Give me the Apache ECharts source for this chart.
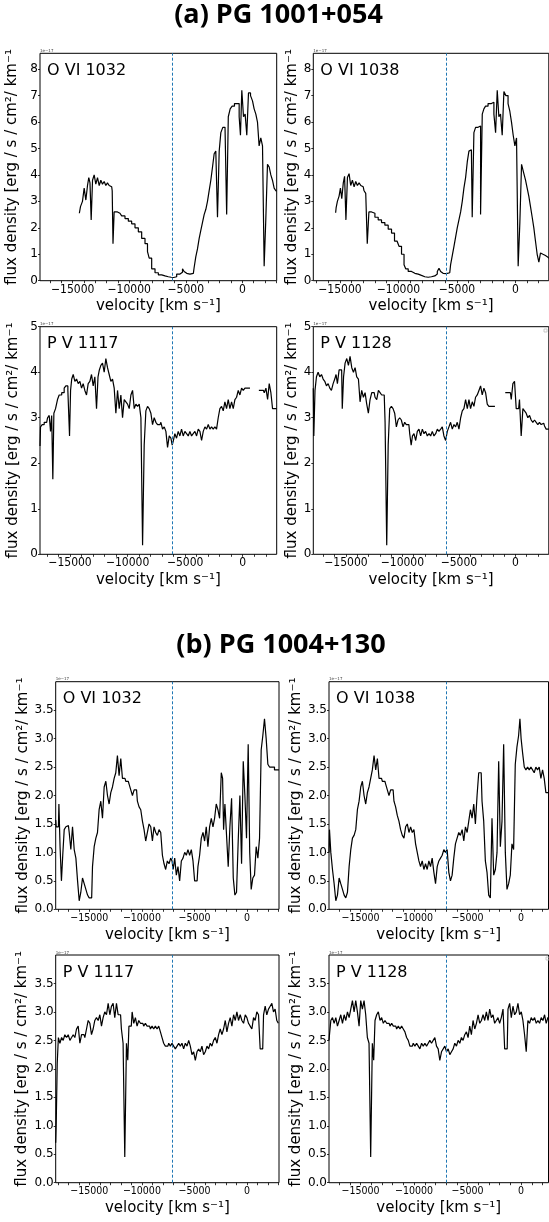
<!DOCTYPE html>
<html><head><meta charset="utf-8">
<script src="https://cdn.jsdelivr.net/npm/echarts@6/dist/echarts.min.js"></script>
<style>html,body{margin:0;padding:0;background:#fff}#c{width:549px;height:1222px}</style>
</head><body><div id="c"></div>
<script>
// ---------- DATA (flux in units of 1e-17) ----------
const xTickValues = [-15000, -10000, -5000, 0];
const xMinorTickValues = [-18000,-17000,-16000,-15000,-14000,-13000,-12000,-11000,-10000,-9000,-8000,-7000,-6000,-5000,-4000,-3000,-2000,-1000,0,1000,2000,3000];
const yTicksAO = [0, 1, 2, 3, 4, 5, 6, 7, 8];
const yTicksAP = [0, 1, 2, 3, 4, 5];
const yTicksB = [0, 0.5, 1, 1.5, 2, 2.5, 3, 3.5];
const lineLabels = ['O VI 1032', 'O VI 1038', 'P V 1117', 'P V 1128'];
const groupTitles = ['(a) PG 1001+054', '(b) PG 1004+130'];
const refVelA = [-6190, -5950, -6110, -6160];
const refVelB = [-7090, -7020, -7090, -7020];

// (a) PG 1001+054, O VI 1032
const vA1032 = [-14410,-14210,-14060,-13910,-13760,-13620,-13530,-13410,-13320,-13170,
 -13030,-12880,-12730,-12580,-12440,-12290,-12140,-12000,-11850,-11700,
 -11550,-11460,-11410,-11260,-10820,-10520,-10230,-9930,-9640,-9340,
 -9050,-8750,-8460,-8310,-8160,-7870,-7570,-7280,-6980,-6690,
 -6400,-6190,-5950,-5660,-5360,-5220,-5070,-4920,-4630,-4330,
 -4190,-4040,-3890,-3740,-3600,-3450,-3300,-3150,-3010,-2860,
 -2710,-2560,-2420,-2270,-2120,-1970,-1830,-1620,-1440,-1330,
 -1150,-1000,-800,-590,-350,-210,-120,30,180,320,
 470,620,830,970,1120,1270,1410,1560,1710,1860,
 2000,2150,2300,2450,2590,2740,2890,3040];
const fA1032 = [2.55,2.8,3.0,3.5,3.05,3.6,3.9,3.7,2.3,3.8,
 4.0,3.65,3.9,3.6,3.8,3.65,3.75,3.6,3.7,3.6,
 3.55,3.4,1.4,2.6,2.55,2.45,2.35,2.25,2.15,2.0,
 1.85,1.6,1.4,1.1,0.85,0.45,0.3,0.22,0.18,0.15,
 0.13,0.12,0.15,0.25,0.32,0.45,0.35,0.28,0.25,0.28,
 0.5,0.9,1.2,1.6,1.9,2.2,2.5,2.7,3.0,3.4,
 3.8,4.3,4.8,4.9,2.4,4.9,5.6,5.8,5.85,2.5,
 6.2,6.5,6.6,6.7,6.7,6.2,5.5,7.2,6.2,6.3,
 5.5,7.1,7.0,6.8,6.5,6.3,6.0,5.1,5.4,5.1,
 0.55,2.3,4.4,4.3,4.0,3.8,3.5,3.4];

// (a) PG 1001+054, O VI 1038
const vA1038 = [-15370,-15290,-15150,-15000,-14920,-14770,-14660,-14550,-14430,-14290,
 -14150,-14010,-13860,-13720,-13580,-13440,-13290,-13150,-13010,-12870,
 -12720,-12610,-12440,-12150,-11870,-11590,-11300,-11020,-10730,-10450,
 -10220,-10020,-9880,-9590,-9450,-9310,-9020,-8740,-8450,-8170,
 -7890,-7600,-7320,-7030,-6750,-6600,-6460,-6320,-6180,-5890,
 -5610,-5470,-5320,-5180,-5040,-4900,-4750,-4610,-4470,-4330,
 -4180,-4040,-3900,-3760,-3620,-3470,-3330,-3050,-2900,-2760,
 -2620,-2480,-2190,-1910,-1760,-1620,-1480,-1340,-1200,-1050,
 -910,-710,-540,-400,-260,-110,30,170,310,460,
 600,800,940,1080,1220,1370,1510,1650,1790,1940,
 2080,2220,2360,2500,2650,2870];
const fA1038 = [2.57,2.75,3.0,3.2,3.5,3.1,3.7,3.95,2.3,3.9,
 4.05,3.6,3.8,3.55,3.75,3.6,3.7,3.6,3.55,3.4,
 3.3,1.4,2.6,2.55,2.4,2.3,2.2,2.1,1.95,1.8,
 1.5,1.45,1.3,1.0,0.6,0.45,0.35,0.28,0.25,0.2,
 0.15,0.13,0.15,0.18,0.25,0.35,0.47,0.35,0.28,0.27,
 0.3,0.6,0.95,1.3,1.65,2.0,2.3,2.6,3.0,3.5,
 3.9,4.5,4.9,4.95,2.4,5.6,5.8,5.85,2.5,6.3,
 6.5,6.6,6.7,6.75,6.3,5.6,7.2,6.2,6.3,5.5,
 7.15,7.0,6.7,6.4,6.0,5.5,5.1,5.4,0.55,2.2,
 4.4,4.1,3.8,3.5,3.2,2.8,2.4,2.0,1.5,1.0,
 0.7,1.05,1.0,0.95,0.9,0.85];

// (a) PG 1001+054, P V 1117
const vA1117 = [-17610,-17520,-17320,-17170,-17030,-16880,-16740,-16650,-16540,-16450,
 -16360,-16160,-16020,-15870,-15580,-15440,-15290,-15090,-15000,-14910,
 -14800,-14650,-14510,-14360,-14220,-14070,-13930,-13790,-13640,-13500,
 -13350,-13210,-13060,-12920,-12770,-12630,-12510,-12400,-12250,-12110,
 -11960,-11820,-11670,-11530,-11380,-11240,-11090,-10950,-10800,-10660,
 -10510,-10370,-10220,-10080,-9930,-9790,-9640,-9500,-9350,-9210,
 -9060,-8920,-8770,-8630,-8490,-8340,-8200,-8050,-7910,-7760,
 -7620,-7470,-7330,-7180,-7040,-6890,-6750,-6600,-6460,-6310,
 -6170,-6080,-5970,-5820,-5680,-5530,-5390,-5240,-5100,-4950,
 -4810,-4660,-4520,-4370,-4230,-4080,-3940,-3790,-3650,-3500,
 -3360,-3210,-3070,-2920,-2780,-2640,-2490,-2350,-2200,-2060,
 -1910,-1770,-1620,-1480,-1330,-1190,-1040,-900,-750,-610,
 -460,-320,-170,-30,120,260,1000,1800,1940,2090,
 2230,2370,2520,2660,2810,2950];
const fA1117 = [2.38,2.8,2.85,2.9,2.9,3.0,3.05,2.7,3.05,1.65,
 3.1,3.2,3.4,3.5,3.55,3.65,3.7,3.6,2.6,3.6,
 3.85,3.95,3.8,3.85,3.75,3.8,3.65,3.75,3.6,3.5,
 3.75,3.8,3.95,3.7,3.9,3.2,3.9,4.05,4.15,4.2,
 4.0,4.3,4.1,3.95,3.8,3.85,3.65,3.1,3.6,3.2,
 3.5,3.0,3.4,3.35,3.3,3.2,3.5,3.6,3.2,3.3,
 3.25,3.3,3.0,0.2,2.4,3.15,3.25,3.2,3.1,2.85,
 3.0,2.9,2.85,2.85,2.9,2.75,2.8,2.7,2.35,2.6,
 2.55,2.4,2.5,2.65,2.55,2.7,2.6,2.75,2.6,2.7,
 2.65,2.6,2.7,2.6,2.65,2.7,2.6,2.75,2.7,2.5,
 2.7,2.8,2.75,2.85,2.75,2.8,2.75,2.8,2.75,3.0,
 3.2,3.25,3.15,3.35,3.2,3.4,3.2,3.35,3.2,3.4,
 3.45,3.6,3.5,3.65,3.6,3.65,null,3.6,3.55,3.65,
 3.4,3.75,3.55,3.2,3.2,3.2];

// (a) PG 1001+054, P V 1128
const vA1128 = [-17890,-17800,-17680,-17540,-17390,-17240,-17090,-16950,-16800,-16650,
 -16500,-16360,-16210,-16060,-15920,-15830,-15680,-15530,-15380,-15270,
 -15150,-15000,-14850,-14710,-14560,-14410,-14260,-14120,-13970,-13820,
 -13680,-13530,-13380,-13230,-13090,-12940,-12790,-12640,-12500,-12350,
 -12200,-12050,-11910,-11760,-11610,-11460,-11320,-11200,-11050,-10900,
 -10760,-10610,-10460,-10320,-10170,-10020,-9870,-9730,-9580,-9430,
 -9280,-9170,-9050,-8900,-8750,-8610,-8460,-8310,-8160,-8020,
 -7870,-7720,-7570,-7430,-7280,-7130,-6980,-6840,-6690,-6540,
 -6400,-6250,-6100,-5950,-5810,-5660,-5510,-5360,-5220,-5070,
 -4920,-4770,-4630,-4480,-4330,-4180,-4040,-3890,-3740,-3600,
 -3450,-3300,-3150,-3010,-2860,-2710,-2560,-2420,-2270,-1350,
 -440,-290,-150,0,150,290,440,590,740,880,
 1030,1180,1330,1470,1620,1770,1920,2060,2210,2360,
 2510,2650,2800,2980];
const fA1128 = [3.65,2.6,3.6,3.9,4.0,3.9,3.95,3.85,3.8,3.7,
 3.75,3.65,3.6,3.75,3.85,3.95,3.75,4.05,4.05,3.2,
 3.9,4.2,4.3,4.15,4.35,4.1,4.0,4.1,3.9,3.85,
 3.35,3.6,3.45,3.55,3.3,3.1,3.4,3.55,3.55,3.45,
 3.4,3.6,3.55,3.5,3.5,2.9,0.2,2.4,3.2,3.25,
 3.2,3.1,2.8,2.95,3.0,2.95,2.8,2.9,2.85,2.85,
 2.65,2.4,2.6,2.65,2.5,2.7,2.75,2.6,2.75,2.65,
 2.7,2.6,2.65,2.6,2.7,2.6,2.65,2.75,2.7,2.75,
 2.8,2.6,2.5,2.7,2.8,2.9,2.75,2.85,2.8,2.9,
 2.75,3.0,3.15,3.2,3.4,3.2,3.4,3.2,3.35,3.25,
 3.45,3.5,3.6,3.7,3.5,3.65,3.55,3.3,3.25,null,
 3.55,3.4,3.75,3.8,3.2,3.2,3.4,2.6,3.2,3.15,
 3.1,3.0,3.05,2.95,2.9,2.95,2.9,2.85,2.9,2.85,
 2.88,2.82,2.75,2.75];

// (b) PG 1004+130, O VI 1032
const vB1032 = [-18200,-18100,-17940,-17850,-17720,-17590,-17470,-17310,-17150,-16990,
 -16840,-16680,-16520,-16360,-16200,-16040,-15890,-15730,-15570,-15410,
 -15250,-15090,-14940,-14780,-14620,-14460,-14300,-14150,-13990,-13830,
 -13670,-13510,-13350,-13200,-13040,-12880,-12720,-12560,-12410,-12250,
 -12090,-11930,-11770,-11610,-11460,-11300,-11140,-10980,-10820,-10660,
 -10510,-10350,-10190,-10030,-9870,-9720,-9560,-9400,-9240,-9080,
 -8920,-8770,-8610,-8450,-8290,-8130,-7970,-7820,-7660,-7500,
 -7340,-7180,-7090,-6960,-6800,-6650,-6490,-6330,-6170,-6010,
 -5850,-5700,-5540,-5380,-5220,-5060,-4910,-4750,-4590,-4430,
 -4270,-4110,-3960,-3800,-3640,-3480,-3320,-3160,-3010,-2850,
 -2690,-2530,-2370,-2280,-2180,-2030,-1870,-1710,-1550,-1390,
 -1230,-1080,-920,-760,-600,-440,-280,-130,30,190,
 320,470,630,790,950,1110,1270,1420,1580,1740,
 1900,2060,2220,2370,2530,2690,2850,3040];
const fB1032 = [1.57,1.45,1.45,1.85,1.1,0.5,0.95,1.4,1.45,1.47,
 1.35,1.05,1.45,1.05,0.9,0.5,0.15,0.3,0.55,0.45,
 0.35,0.25,0.2,0.2,0.75,1.1,1.25,1.35,1.75,1.9,
 1.6,2.15,2.25,2.0,1.85,2.05,2.15,2.3,2.4,2.7,
 2.35,2.65,2.3,2.3,2.25,2.25,2.2,2.1,2.0,2.1,
 2.1,1.9,1.8,1.75,1.55,1.4,1.2,1.35,1.5,1.45,
 1.2,1.45,1.35,1.3,1.4,1.35,0.95,0.8,0.7,0.85,
 0.8,0.9,0.85,0.7,0.9,0.6,0.75,0.5,0.85,0.9,
 1.0,0.95,1.05,0.95,1.05,0.85,0.5,0.5,0.75,0.95,
 1.25,1.35,1.2,1.45,1.1,1.45,1.6,1.45,1.6,1.85,
 1.75,1.6,2.4,2.3,1.4,1.85,1.3,0.75,1.45,1.95,
 0.55,0.25,0.3,1.2,2.0,0.8,2.6,2.0,1.25,2.9,
 1.0,0.35,0.55,0.6,1.1,0.9,1.25,2.8,3.05,3.35,
 3.0,2.55,2.5,2.5,2.5,2.45,2.45,2.45];

// (b) PG 1004+130, O VI 1038
const vB1038 = [-17950,-17860,-17700,-17550,-17390,-17240,-17080,-16930,-16770,-16610,
 -16460,-16300,-16150,-15990,-15840,-15680,-15530,-15370,-15220,-15060,
 -14910,-14750,-14600,-14440,-14290,-14130,-13980,-13820,-13660,-13510,
 -13350,-13200,-13040,-12890,-12730,-12580,-12420,-12270,-12110,-11960,
 -11800,-11650,-11490,-11340,-11180,-11020,-10870,-10710,-10560,-10400,
 -10250,-10090,-9940,-9780,-9630,-9470,-9320,-9160,-9010,-8850,
 -8700,-8540,-8390,-8230,-8070,-7920,-7760,-7610,-7450,-7300,
 -7140,-6990,-6830,-6680,-6520,-6370,-6210,-6060,-5900,-5750,
 -5590,-5430,-5280,-5120,-4970,-4810,-4660,-4500,-4350,-4190,
 -4040,-3880,-3730,-3570,-3420,-3260,-3110,-2950,-2800,-2640,
 -2480,-2330,-2170,-2020,-1860,-1710,-1550,-1400,-1240,-1090,
 -930,-780,-620,-470,-310,-160,-60,60,220,370,
 530,680,840,990,1150,1300,1460,1610,1770,1930,
 2080,2240,2390,2580];
const fB1038 = [1.0,1.4,1.0,0.7,0.45,0.15,0.25,0.55,0.45,0.35,
 0.25,0.2,0.3,0.75,1.05,1.25,1.3,1.4,1.75,1.9,
 2.15,2.25,2.0,1.85,2.05,2.15,2.3,2.45,2.7,2.45,
 2.65,2.3,2.3,2.25,2.25,2.2,2.1,2.0,2.1,2.1,
 1.9,1.8,1.65,1.55,1.4,1.3,1.25,1.45,1.5,1.35,
 1.45,1.35,1.4,1.15,1.0,0.85,0.75,0.85,0.7,0.8,
 0.7,0.85,0.75,0.9,0.65,0.45,0.75,0.85,0.9,0.95,
 1.05,1.0,1.05,0.65,0.5,0.6,0.9,1.15,1.25,1.35,
 1.3,1.4,1.2,1.45,1.35,1.55,1.75,1.6,1.85,1.5,
 2.0,2.4,2.4,1.9,1.55,0.85,0.65,0.25,0.2,1.6,
 0.6,0.7,1.0,2.6,1.1,1.55,2.9,1.0,0.35,0.45,
 0.6,1.15,1.05,2.55,2.85,3.05,3.35,3.0,2.75,2.5,
 2.45,2.5,2.45,2.5,2.45,2.4,2.5,2.45,2.5,2.3,
 2.45,2.3,2.05,2.05];

// (b) PG 1004+130, P V 1117
const vB1117 = [-18200,-18100,-18010,-17880,-17720,-17560,-17410,-17250,-17090,-16930,
 -16770,-16610,-16460,-16300,-16140,-15980,-15820,-15660,-15510,-15350,
 -15190,-15030,-14870,-14720,-14560,-14400,-14240,-14080,-13920,-13770,
 -13610,-13450,-13290,-13130,-12970,-12820,-12660,-12500,-12340,-12180,
 -12030,-11870,-11710,-11550,-11390,-11300,-11170,-11010,-10850,-10700,
 -10540,-10380,-10220,-10060,-9910,-9750,-9590,-9430,-9270,-9110,
 -8960,-8800,-8640,-8480,-8320,-8160,-8010,-7850,-7690,-7530,
 -7370,-7220,-7060,-6900,-6740,-6580,-6420,-6270,-6110,-5950,
 -5790,-5630,-5470,-5320,-5160,-5000,-4840,-4680,-4530,-4370,
 -4210,-4050,-3890,-3730,-3580,-3420,-3260,-3100,-2940,-2780,
 -2630,-2470,-2310,-2150,-1990,-1840,-1680,-1520,-1360,-1200,
 -1040,-890,-730,-570,-410,-250,-90,60,220,380,
 540,700,850,1010,1170,1330,1490,1650,1800,1960,
 2120,2280,2440,2590,2750,2910,3040];
const fB1117 = [0.7,1.05,2.1,2.55,2.45,2.55,2.5,2.6,2.55,2.6,
 2.5,2.55,2.6,2.55,2.7,2.75,2.45,2.6,2.6,2.55,
 2.7,2.85,2.8,2.6,2.7,2.85,2.9,2.85,2.95,2.75,
 2.9,3.0,2.95,3.15,2.95,3.1,3.15,2.9,3.15,2.95,
 2.95,2.7,2.45,0.45,2.45,2.15,2.75,2.75,3.0,2.8,
 2.9,2.75,2.85,2.8,2.8,2.75,2.8,2.75,2.75,2.7,
 2.75,2.7,2.75,2.7,2.75,2.65,2.55,2.45,2.4,2.4,
 2.45,2.4,2.45,2.4,2.35,2.4,2.45,2.4,2.45,2.35,
 2.45,2.4,2.5,2.4,2.25,2.3,2.15,2.3,2.35,2.3,
 2.4,2.25,2.3,2.4,2.35,2.45,2.4,2.5,2.55,2.45,
 2.6,2.7,2.6,2.7,2.85,2.65,2.8,2.9,2.75,2.95,
 2.85,3.0,2.85,2.95,2.85,2.8,2.95,2.9,2.8,2.75,
 2.7,2.9,2.85,3.0,2.95,2.35,2.35,2.95,3.1,2.95,
 3.05,3.1,3.15,3.0,3.05,2.85,2.8];

// (b) PG 1004+130, P V 1128
const vB1128 = [-17950,-17860,-17700,-17550,-17390,-17240,-17080,-16930,-16770,-16610,
 -16460,-16300,-16150,-15990,-15840,-15680,-15530,-15370,-15220,-15060,
 -14910,-14750,-14600,-14440,-14290,-14130,-13980,-13820,-13730,-13570,
 -13420,-13260,-13110,-12950,-12800,-12640,-12480,-12330,-12170,-12020,
 -11860,-11710,-11550,-11400,-11240,-11090,-10930,-10780,-10620,-10470,
 -10310,-10160,-10000,-9840,-9690,-9530,-9380,-9220,-9070,-8910,
 -8760,-8600,-8450,-8290,-8140,-7980,-7830,-7670,-7520,-7360,
 -7200,-7050,-6890,-6740,-6580,-6430,-6270,-6120,-5960,-5810,
 -5650,-5500,-5340,-5190,-5030,-4880,-4720,-4570,-4410,-4250,
 -4100,-3940,-3790,-3630,-3480,-3320,-3170,-3010,-2860,-2700,
 -2550,-2390,-2240,-2080,-1930,-1770,-1610,-1460,-1300,-1150,
 -990,-840,-680,-530,-370,-220,-60,90,250,400,
 560,710,870,1020,1180,1340,1490,1650,1800,1960,
 2120,2270,2420,2580];
const fB1128 = [2.5,2.6,2.85,2.9,2.8,2.9,2.75,2.85,2.95,2.8,
 2.95,2.85,3.0,2.9,3.05,3.2,3.0,3.2,3.0,2.75,
 3.2,3.05,3.2,2.95,2.55,2.45,0.45,2.45,2.15,2.85,
 2.95,3.0,2.85,2.9,2.8,2.85,2.8,2.8,2.75,2.8,
 2.75,2.75,2.7,2.75,2.7,2.75,2.7,2.65,2.55,2.5,
 2.4,2.4,2.45,2.4,2.45,2.4,2.35,2.45,2.4,2.45,
 2.4,2.45,2.5,2.45,2.5,2.55,2.4,2.35,2.15,2.3,
 2.35,2.4,2.3,2.35,2.25,2.3,2.35,2.45,2.4,2.5,
 2.45,2.55,2.5,2.6,2.65,2.55,2.75,2.6,2.85,2.7,
 2.8,2.95,2.8,2.85,2.95,2.85,3.0,2.85,3.05,2.9,
 2.95,2.8,2.85,2.9,2.8,2.9,3.05,2.35,2.35,3.05,
 3.15,2.9,3.1,2.95,3.0,3.15,2.95,3.0,2.85,2.6,
 2.3,2.85,2.8,2.9,2.85,2.9,2.8,2.85,2.8,2.9,
 2.85,2.95,2.8,2.9];

// ---------- LAYOUT ----------
const panels = [
 {v: vA1032, f: fA1032, lab: 0, ref: refVelA[0], g: [40, 53.3, 236.7, 227.4], xr: [-17890, 3040], ymax: 8.6, yt: yTicksAO, dec: 0, ngap: 20, xfs: 12},
 {v: vA1038, f: fA1038, lab: 1, ref: refVelA[1], g: [313.3, 53.3, 235.5, 227.4], xr: [-17280, 2860], ymax: 8.6, yt: yTicksAO, dec: 0, ngap: 12.6, xfs: 12},
 {v: vA1117, f: fA1117, lab: 2, ref: refVelA[2], g: [40, 326.7, 236.7, 227.6], xr: [-17610, 2950], ymax: 5, yt: yTicksAP, dec: 0, ngap: 19.3, xfs: 12},
 {v: vA1128, f: fA1128, lab: 3, ref: refVelA[3], g: [313.3, 326.7, 235.5, 227.6], xr: [-17890, 2960], ymax: 5, yt: yTicksAP, dec: 0, ngap: 12.6, xfs: 12},
 {v: vB1032, f: fB1032, lab: 0, ref: refVelB[0], g: [55.7, 681.7, 223.3, 227.6], xr: [-18200, 3040], ymax: 4, yt: yTicksB, dec: 1, ngap: 24, xfs: 10.5},
 {v: vB1038, f: fB1038, lab: 1, ref: refVelB[1], g: [329, 681.7, 219.5, 227.6], xr: [-17950, 2560], ymax: 4, yt: yTicksB, dec: 1, ngap: 24.5, xfs: 10.5},
 {v: vB1117, f: fB1117, lab: 2, ref: refVelB[2], g: [55.7, 955, 223.3, 227.7], xr: [-18200, 3040], ymax: 4, yt: yTicksB, dec: 1, ngap: 26, xfs: 10.5},
 {v: vB1128, f: fB1128, lab: 3, ref: refVelB[3], g: [329, 955, 219.5, 227.7], xr: [-17950, 2560], ymax: 4, yt: yTicksB, dec: 1, ngap: 25, xfs: 10.5}
];

const FONT = "'DejaVu Sans', sans-serif";
const CFONT = "'DejaVu Sans Condensed', 'DejaVu Sans', sans-serif";
const fmtX = v => v < 0 ? '\u2212' + Math.abs(v) : String(v);

const grids = [], xAxes = [], yAxes = [], series = [], titles = [];

titles.push({text: groupTitles[0], left: 278.5, top: 0.5, textAlign: 'center', padding: 0,
  textStyle: {fontFamily: "'Open Sans', sans-serif", fontWeight: 'bold', fontSize: 27, lineHeight: 30, color: '#000'}});
titles.push({text: groupTitles[1], left: 281, top: 630.5, textAlign: 'center', padding: 0,
  textStyle: {fontFamily: "'Open Sans', sans-serif", fontWeight: 'bold', fontSize: 27, lineHeight: 30, color: '#000'}});

panels.forEach((p, i) => {
  const [l, t, w, h] = p.g;
  grids.push({left: l, top: t, width: w, height: h, show: true, borderColor: '#000', borderWidth: 1, backgroundColor: 'transparent'});
  const xMinor = xMinorTickValues.filter(x => x >= p.xr[0] && x <= p.xr[1]);
  xAxes.push({
    type: 'value', gridIndex: i, min: p.xr[0], max: p.xr[1],
    name: 'velocity [km s\u207B\u00B9]', nameLocation: 'middle', nameGap: 18,
    nameTextStyle: {fontFamily: FONT, fontSize: 15, color: '#000'},
    axisLine: {show: false, onZero: false},
    axisTick: {show: true, inside: false, length: 2.5, customValues: xMinor, lineStyle: {color: '#000', width: 0.8}},
    axisLabel: {customValues: xTickValues, formatter: fmtX, margin: 3, fontFamily: CFONT, fontSize: p.xfs, color: '#000'},
    splitLine: {show: false}
  });
  yAxes.push({
    type: 'value', gridIndex: i, min: 0, max: p.ymax,
    name: 'flux density [erg / s / cm\u00B2/ km\u207B\u00B9', nameLocation: 'middle', nameRotate: 90, nameGap: p.ngap,
    nameTextStyle: {fontFamily: FONT, fontSize: 15, color: '#000'},
    axisLine: {show: false, onZero: false},
    axisTick: {show: true, inside: false, length: 2, customValues: p.yt, lineStyle: {color: '#000', width: 0.8}},
    axisLabel: {customValues: p.yt, formatter: v => v.toFixed(p.dec), margin: 2, fontFamily: FONT, fontSize: 12, color: '#000'},
    splitLine: {show: false}
  });
  series.push({
    type: 'line', xAxisIndex: i, yAxisIndex: i, step: 'middle', showSymbol: false, symbol: 'none',
    connectNulls: false, clip: true, silent: true,
    lineStyle: {color: '#000', width: 1.2},
    data: p.v.map((x, k) => [x, p.f[k]]),
    markLine: {silent: true, symbol: ['none', 'none'], label: {show: false},
      lineStyle: {color: '#1f77b4', type: [3, 2], width: 1},
      data: [{xAxis: p.ref}]}
  });
  titles.push({text: lineLabels[p.lab], left: l + 7, top: t + 8.5, padding: 0,
    textStyle: {fontFamily: FONT, fontSize: 16, lineHeight: 18, fontWeight: 'normal', color: '#000'}});
  titles.push({text: '1e\u221217', left: l, top: t - 5, padding: 0,
    textStyle: {fontFamily: FONT, fontSize: 4, lineHeight: 5, fontWeight: 'normal', color: '#444'}});
});

const chart = echarts.init(document.getElementById('c'), null, {renderer: 'canvas'});
chart.setOption({
  backgroundColor: '#fff',
  animation: false,
  title: titles,
  grid: grids,
  xAxis: xAxes,
  yAxis: yAxes,
  series: series,
  graphic: [
    {type: 'rect', shape: {x: 544, y: 329, width: 3, height: 3}, style: {fill: 'none', stroke: '#bbb', lineWidth: 0.8}, silent: true},
    {type: 'rect', shape: {x: 546, y: 957, width: 3, height: 3}, style: {fill: 'none', stroke: '#bbb', lineWidth: 0.8}, silent: true}
  ]
});
</script></body></html>
